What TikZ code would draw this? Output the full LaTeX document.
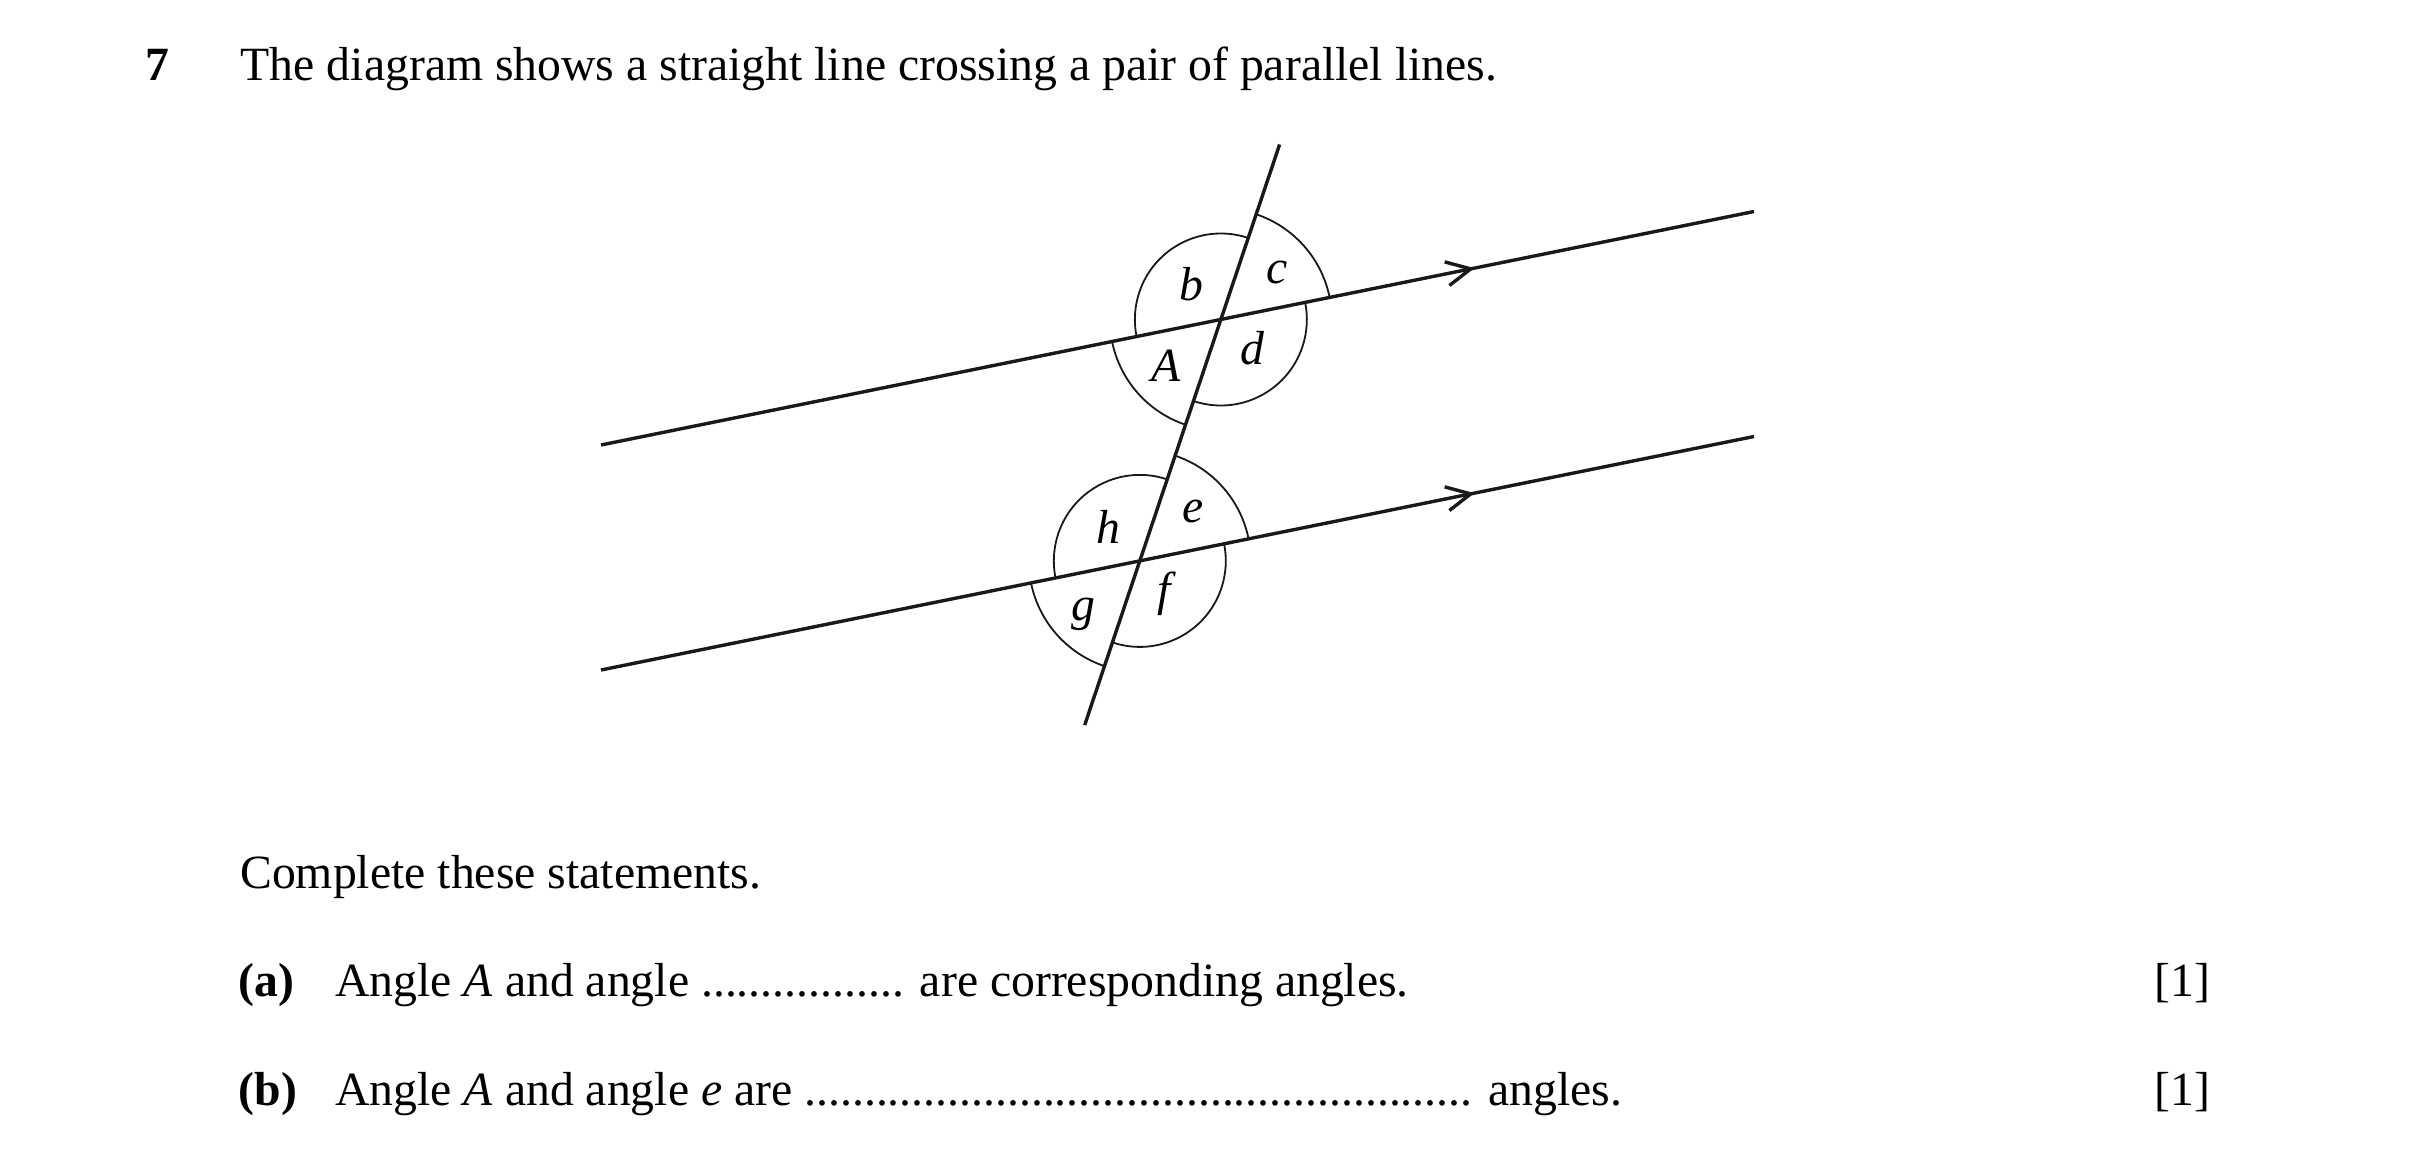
\documentclass[tikz,border=0pt]{standalone}
\usepackage{fontspec}
\setmainfont{Liberation Serif}
\usetikzlibrary{calc}
\begin{document}
\begin{tikzpicture}[x=0.25pt,y=0.25pt,
  mainline/.style={line width=0.85pt, draw=black!90},
  anglearc/.style={line width=0.45pt, draw=black!90},
  chev/.style={line width=0.85pt, draw=black!90},
  txt/.style={inner sep=0pt, anchor=base west, font=\fontsize{11.93}{14}\selectfont},
  boldtxt/.style={txt, font=\fontsize{11.93}{14}\selectfont\bfseries},
  lbl/.style={inner sep=0pt, anchor=center, font=\fontsize{11.93}{14}\selectfont\itshape}]
\fill[white] (0,0) rectangle (2418,-1165);
\useasboundingbox (0,0) rectangle (2418,-1165);

% key points
\coordinate (L1a) at (601,-445);
\coordinate (L1b) at (1754,-211.5);
\coordinate (L2a) at (601,-670);
\coordinate (L2b) at (1754,-436.5);
\coordinate (Ta) at (1279.6,-144.5);
\coordinate (Tb) at (1084.7,-725);
\coordinate (P1) at (1220.85,-319.5);
\coordinate (P2) at (1139.8,-560.9);

% lines
\draw[mainline] (L1a) -- (L1b);
\draw[mainline] (L2a) -- (L2b);
\draw[mainline] (Ta) -- (Tb);

% parallel arrows
\coordinate (ar1) at ($(L1a)!0.7543!(L1b)$);
\coordinate (ar2) at ($(L2a)!0.7543!(L2b)$);
\draw[chev] ($(ar1)+(165:27)$) -- (ar1) -- ($(ar1)+(218:27)$);
\draw[chev] ($(ar2)+(165:27)$) -- (ar2) -- ($(ar2)+(218:27)$);

% angle arcs, upper crossing
\draw[anglearc] (P1) ++(11.45:111) arc[start angle=11.45, end angle=71.44, radius=111];
\draw[anglearc] (P1) ++(71.44:86) arc[start angle=71.44, end angle=191.45, radius=86];
\draw[anglearc] (P1) ++(191.45:111) arc[start angle=191.45, end angle=251.44, radius=111];
\draw[anglearc] (P1) ++(251.44:86) arc[start angle=251.44, end angle=371.45, radius=86];
% angle arcs, lower crossing
\draw[anglearc] (P2) ++(11.45:111) arc[start angle=11.45, end angle=71.44, radius=111];
\draw[anglearc] (P2) ++(71.44:86) arc[start angle=71.44, end angle=191.45, radius=86];
\draw[anglearc] (P2) ++(191.45:111) arc[start angle=191.45, end angle=251.44, radius=111];
\draw[anglearc] (P2) ++(251.44:86) arc[start angle=251.44, end angle=371.45, radius=86];

% angle labels
\node[lbl] (lb) at (1191,-284) {b};
\node[lbl] (lc) at (1277,-272) {c};
\node[lbl] (ld) at (1252,-348) {d};
\node[lbl] (lA) at (1166,-366) {A};
\node[lbl] (lh) at (1108,-527) {h};
\node[lbl] (le) at (1193,-511) {e};
\node[lbl] (lf) at (1164,-594) {f};
\node[lbl] (lg) at (1083,-614) {g};

% text
\node[boldtxt] (q7) at (145,-80.7) {7};
\node[txt] (stem) at (240,-80.7) {The diagram shows a straight line crossing a pair of parallel lines.};
\node[txt] (complete) at (239.5,-888) {Complete these statements.};
\node[boldtxt] (pa) at (238,-996) {(a)};
\node[txt] (sa) at (334.5,-996) {Angle \textit{A} and angle ................. are corresponding angles.};
\node[txt, anchor=base east] (ma) at (2211,-996) {[1]};
\node[boldtxt] (pb) at (238,-1105) {(b)};
\node[txt] (sb) at (334.5,-1105) {Angle \textit{A} and angle \textit{e} are ........................................................ angles.};
\node[txt, anchor=base east] (mb) at (2211,-1105) {[1]};
\end{tikzpicture}
\end{document}
